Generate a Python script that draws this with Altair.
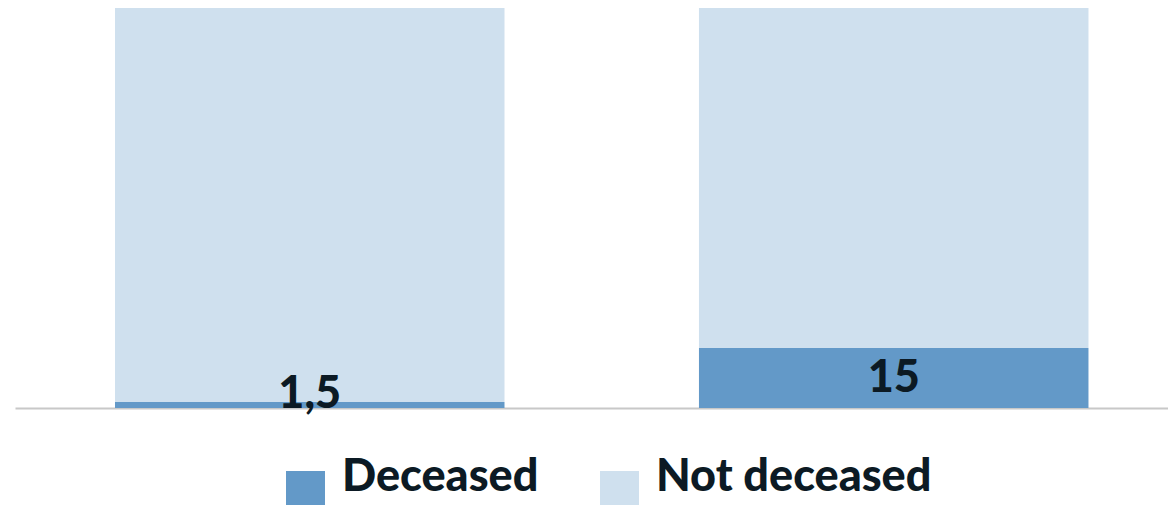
import altair as alt
import pandas as pd

groups = ["Group A", "Group B"]
deceased = [1.5, 15]
not_deceased = [98.5, 85]
labels = ["1,5", "15"]
status = ["Deceased", "Not deceased"]
colors = ["#6399c8", "#cfe0ee"]

rows = []
for g, d, n in zip(groups, deceased, not_deceased):
    rows.append({"group": g, "status": status[0], "value": d, "order": 0})
    rows.append({"group": g, "status": status[1], "value": n, "order": 1})
df = pd.DataFrame(rows)
lab = pd.DataFrame({"group": groups, "value": deceased, "label": labels})

xscale = alt.Scale(paddingInner=0.333, paddingOuter=0.1537, align=0.557)
x_enc = alt.X(
    "group:N", sort=groups, scale=xscale,
    axis=alt.Axis(labels=False, ticks=False, title=None, grid=False,
                  domainColor="#c8c8c8", domainWidth=2),
)
yscale = alt.Scale(domain=[0, 100], nice=False, zero=True)

bars = alt.Chart(df).mark_bar().encode(
    x=x_enc,
    y=alt.Y("value:Q", stack="zero", scale=yscale, axis=None),
    color=alt.Color(
        "status:N",
        scale=alt.Scale(domain=status, range=colors),
        legend=alt.Legend(
            orient="none", legendX=268, legendY=460, direction="horizontal",
            title=None, symbolType="square", symbolSize=1521,
            symbolStrokeWidth=0, labelFont="Lato", labelFontSize=45,
            labelFontWeight=900, labelColor="#0c1a24", labelOffset=14,
            columnPadding=58, labelBaseline="alphabetic", labelLimit=0,
            padding=0,
        ),
    ),
    order=alt.Order("order:Q", sort="ascending"),
)

text = alt.Chart(lab).transform_calculate(
    ypos="max(datum.value / 2, 3.5)"
).mark_text(
    font="Lato", fontSize=45, fontWeight=900, color="#0c1a24",
    baseline="middle", align="center",
).encode(
    x=alt.X("group:N", sort=groups, scale=xscale),
    y=alt.Y("ypos:Q", scale=yscale),
    text="label:N",
)

chart = alt.layer(bars, text).properties(
    width=1153, height=400,
    padding={"left": 15, "top": 8, "right": 0, "bottom": 97},
    autosize=alt.AutoSizeParams(type="none"),
).configure_view(stroke=None)

chart.save("out.html", embed_options={"renderer": "svg", "actions": False})
